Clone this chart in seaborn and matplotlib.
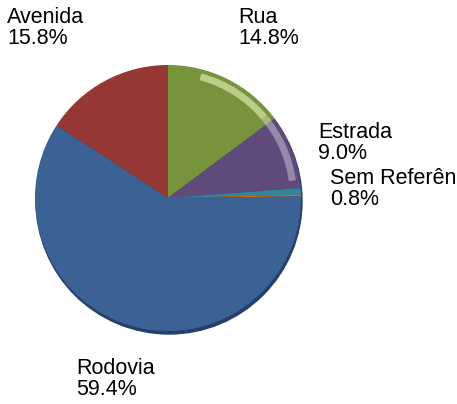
import matplotlib
matplotlib.use('Agg')
import matplotlib.pyplot as plt
import seaborn as sns
from matplotlib.patches import Circle, Wedge

# slice data, clockwise from 12 o'clock
categories = ['Rua', 'Estrada', 'Sem Referência', '', 'Rodovia', 'Avenida']
shares = [14.8, 9.0, 0.8, 0.2, 59.4, 15.8]
slice_colors = ['#77933C', '#604A7B', '#31859C', '#E46C0A', '#3C6195', '#953735']
label_text = ['Rua\n14.8%', 'Estrada\n9.0%', 'Sem Referência\n0.8%', None, 'Rodovia\n59.4%', 'Avenida\n15.8%']
# top-left pixel of each label
label_pos = [(238, 7), (318, 122), (330, 168), None, (76, 358), (7, 7)]

sns.set_style('white')
plt.rcParams['font.family'] = ['Liberation Sans', 'DejaVu Sans']

W, H = 457, 404
fig = plt.figure(figsize=(W / 100, H / 100), dpi=100)
ax = fig.add_axes([0, 0, 1, 1])

cx, cy, r = 168, H - 198, 133

# dark rim / shadow behind the pie
ax.add_patch(Circle((cx + 1, cy - 3), r, color='#24406A', zorder=0))

ax.pie(shares, colors=slice_colors, startangle=90, counterclock=False,
       center=(cx, cy), radius=r, frame=True,
       wedgeprops={'linewidth': 0, 'zorder': 1})

# light highlight band near the upper-right edge
ax.add_patch(Wedge((cx, cy), r - 4, 40, 75, width=7,
                   color='#F4FFC8', alpha=0.55, lw=0, zorder=2))
ax.add_patch(Wedge((cx, cy), r - 4, 8, 40, width=7,
                   color='white', alpha=0.35, lw=0, zorder=2))

ax.set_xlim(0, W)
ax.set_ylim(0, H)
ax.set_aspect('equal')
ax.axis('off')

for txt, pos in zip(label_text, label_pos):
    if txt is None:
        continue
    fig.text(pos[0] / W, 1 - pos[1] / H, txt, ha='left', va='top',
             fontsize=15.5, color='black', linespacing=0.98)

fig.savefig('out.png', dpi=100)
